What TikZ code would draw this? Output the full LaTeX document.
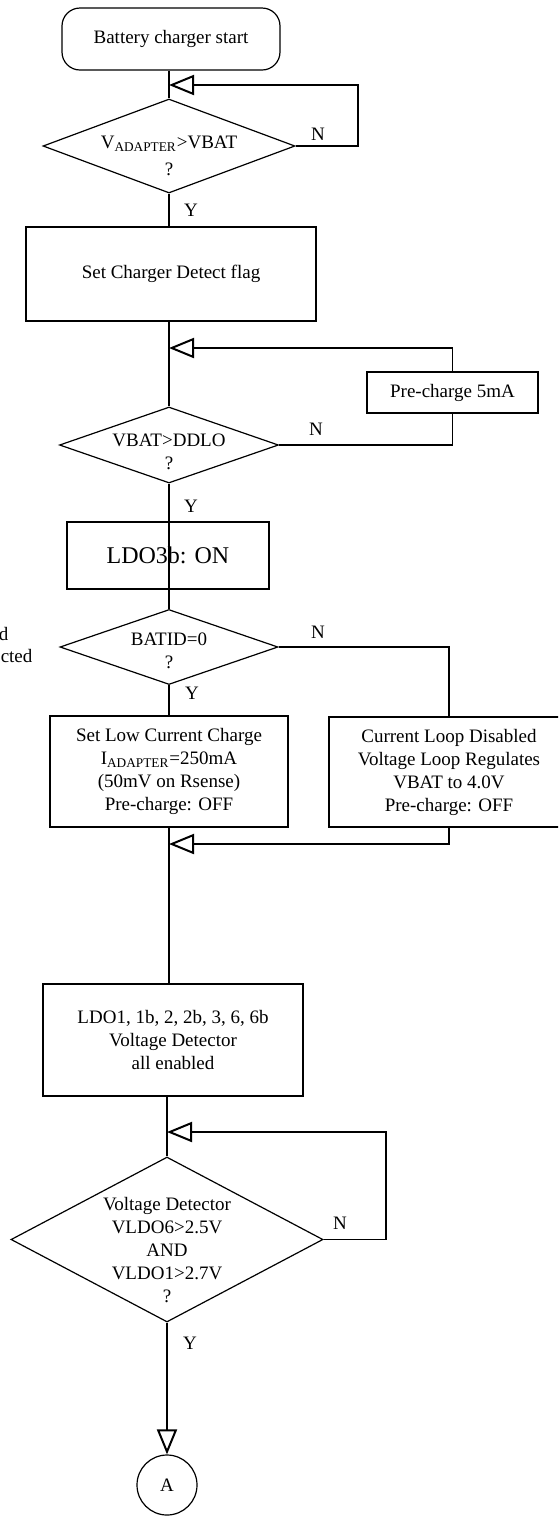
\documentclass[tikz,border=0pt]{standalone}
\usepackage{fontspec}
\setmainfont{Liberation Serif}
\usetikzlibrary{shapes.geometric, arrows.meta}

\begin{document}
\begin{tikzpicture}[x=0.5pt, y=-0.5pt, line width=0.6pt,
    font=\fontsize{9.5}{11.5}\selectfont,
    box/.style={draw, rectangle, align=center, inner sep=0pt},
    thickbox/.style={box, line width=1.1pt},
    decision/.style={draw, diamond, inner sep=0pt},
    qtext/.style={align=center, inner sep=0pt},
    yn/.style={inner sep=0pt},
    backflow/.style={-{Triangle[open, length=12.5pt, width=10pt, line width=1pt]}}]
  \clip (0,0) rectangle (558,1517);
  % start and adapter check
  \node[box, rounded corners=9pt, minimum width=109pt, minimum height=31pt] (start) at (171,39) {Battery charger start};
  \node[decision, minimum width=126pt, minimum height=47pt] (q1) at (169,146) {};
  \node[qtext] (q1t) at (169,156) {V\textsubscript{ADAPTER}>VBAT\\[2pt]?};
  \coordinate (j1) at (169,85);
  \coordinate (c1) at (358,85);
  \draw (q1.north |- start.south) -- (q1.north);
  \draw[backflow] (q1.east) -| (c1) -- (j1);
  \node[yn] (n1) at (318,134) {N};
  \node[yn] (y1) at (191,210) {Y};

  \node[box, minimum width=145pt, minimum height=47pt] (flag) at (171,274) {Set Charger Detect flag};
  \draw (q1.south) -- (q1.south |- flag.north);

  % pre-charge loop
  \node[decision, minimum width=109.5pt, minimum height=38pt] (q2) at (169,445) {};
  \node[qtext] (q2t) at (169,452) {VBAT>DDLO\\?};
  \node[box, minimum width=85.5pt, minimum height=20.5pt] (pre) at (452.5,392.5) {Pre-charge 5mA};
  \coordinate (j2) at (169,348);
  \draw (q2.north |- flag.south) -- (q2.north);
  \draw (q2.east) -| (pre.south);
  \draw[backflow] (pre.north) |- (j2);
  \node[yn] (n2) at (316,429) {N};
  \node[yn] (y2) at (191,506) {Y};

  \node[thickbox, minimum width=101pt, minimum height=33.5pt, font=\fontsize{12}{14}\selectfont] (ldo3b) at (168,555.5) {LDO3b: ON};

  % battery id
  \node[decision, minimum width=109pt, minimum height=37.5pt] (q3) at (169,647) {};
  \node[qtext] (q3t) at (169,651) {BATID=0\\?};
  \draw (q2.south) -- (q3.north);
  \node[anchor=base east, inner sep=0pt] (cut1) at (9,640) {d};
  \node[anchor=base east, inner sep=0pt] (cut2) at (33,662) {cted};
  \node[box, minimum width=119pt, minimum height=55.5pt] (low) at (169,771.5) {Set Low Current Charge\\I\textsubscript{ADAPTER}=250mA\\(50mV on Rsense)\\Pre-charge: OFF};
  \node[box, minimum width=120pt, minimum height=55pt] (cl) at (449,772) {Current Loop Disabled\\Voltage Loop Regulates\\VBAT to 4.0V\\Pre-charge: OFF};
  \coordinate (j3) at (169,844);
  \draw (q3.south) -- (q3.south |- low.north);
  \draw (q3.east) -| (cl.north);
  \draw[backflow] (cl.south) |- (j3);
  \node[yn] (n3) at (318,632) {N};
  \node[yn] (y3) at (192,693) {Y};

  % regulators
  \node[thickbox, minimum width=130pt, minimum height=56pt] (ldo) at (173,1040) {LDO1, 1b, 2, 2b, 3, 6, 6b\\Voltage Detector\\all enabled};
  \draw (low.south) -- (low.south |- ldo.north);
  \node[decision, minimum width=156pt, minimum height=82.5pt] (q4) at (167,1239.5) {};
  \node[qtext] (q4t) at (167,1250) {Voltage Detector\\VLDO6>2.5V\\AND\\VLDO1>2.7V\\?};
  \coordinate (j4) at (167,1132);
  \coordinate (c4) at (386,1132);
  \draw (q4.north |- ldo.south) -- (q4.north);
  \draw[backflow] (q4.east) -| (c4) -- (j4);
  \node[yn] (n4) at (340,1223) {N};
  \node[yn] (y4) at (190,1343) {Y};

  \node[draw, circle, minimum size=30pt, inner sep=0pt] (circA) at (167,1485) {A};
  \draw[backflow] (q4.south) -- (circA.north);
\end{tikzpicture}
\end{document}
